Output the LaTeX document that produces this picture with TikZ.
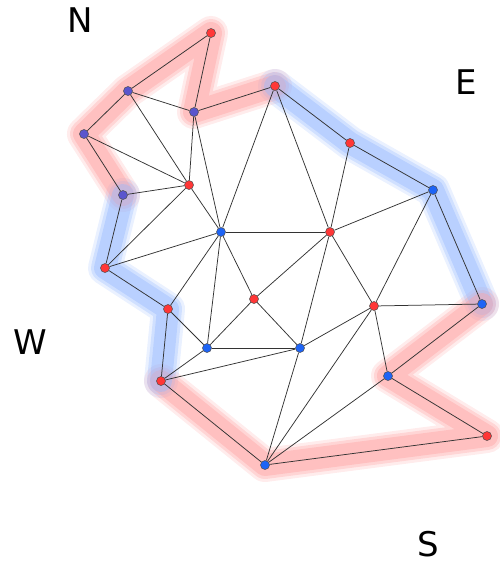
\documentclass[tikz,border=0pt]{standalone}
\usepackage{fontspec}
\newfontfamily\labelfont{DejaVu Sans}
\usetikzlibrary{backgrounds}

\definecolor{vred}{RGB}{255,55,55}
\definecolor{vblue}{RGB}{30,100,245}
\definecolor{vpurple}{RGB}{90,85,205}
\definecolor{haloR}{RGB}{255,160,160}
\definecolor{haloB}{RGB}{150,185,255}

\tikzset{
  vtx/.style={circle, inner sep=0pt, minimum size=9pt, draw=black!70, line width=0.5pt, fill=#1},
  edge/.style={draw=black!80, line width=0.75pt},
  halo/.style={line cap=round, line join=round},
  compass/.style={inner sep=0pt, font=\labelfont\fontsize{34}{40}\selectfont}
}

\begin{document}
\begin{tikzpicture}[x=1pt, y=-1pt]
    \useasboundingbox (0,0) rectangle (500,563);

    % Vertices
    \node[vtx=vred]    (v1)  at (211,33)  {};
    \node[vtx=vpurple] (v2)  at (128,91)  {};
    \node[vtx=vpurple] (v3)  at (194,112) {};
    \node[vtx=vred]    (v4)  at (275,86)  {};
    \node[vtx=vpurple] (v5)  at (84,134)  {};
    \node[vtx=vred]    (v6)  at (189,185) {};
    \node[vtx=vpurple] (v7)  at (123,195) {};
    \node[vtx=vred]    (v8)  at (350,143) {};
    \node[vtx=vblue]   (v9)  at (433,190) {};
    \node[vtx=vblue]   (v10) at (221,232) {};
    \node[vtx=vred]    (v11) at (330,232) {};
    \node[vtx=vred]    (v12) at (105,268) {};
    \node[vtx=vred]    (v13) at (168,309) {};
    \node[vtx=vred]    (v14) at (254,299) {};
    \node[vtx=vred]    (v15) at (374,306) {};
    \node[vtx=vblue]   (v16) at (482,304) {};
    \node[vtx=vblue]   (v17) at (207,348) {};
    \node[vtx=vblue]   (v18) at (300,348) {};
    \node[vtx=vblue]   (v19) at (388,376) {};
    \node[vtx=vred]    (v20) at (161,381) {};
    \node[vtx=vred]    (v21) at (487,436) {};
    \node[vtx=vblue]   (v22) at (265,465) {};

    % Compass labels
    \node[compass] (north) at (80,20)  {N};
    \node[compass] (east)  at (466,82) {E};
    \node[compass] (west)  at (30,342) {W};
    \node[compass] (south) at (428,544) {S};

    \begin{pgfonlayer}{background}
    % Boundary halos
    \foreach \w/\o in {34/0.2, 28/0.3, 22/0.4} {
      \draw[halo, draw=haloR, line width=\w pt, opacity=\o]
        (v7.center) -- (v5.center) -- (v2.center) -- (v1.center) -- (v3.center) -- (v4.center);
      \draw[halo, draw=haloB, line width=\w pt, opacity=\o]
        (v4.center) -- (v8.center) -- (v9.center) -- (v16.center);
      \draw[halo, draw=haloR, line width=\w pt, opacity=\o]
        (v16.center) -- (v19.center) -- (v21.center) -- (v22.center) -- (v20.center);
      \draw[halo, draw=haloB, line width=\w pt, opacity=\o]
        (v20.center) -- (v13.center) -- (v12.center) -- (v7.center);
    }

    % Triangulation
    \foreach \a/\b in {v1/v2, v1/v3, v2/v3, v3/v4, v2/v5, v2/v6, v5/v6, v5/v7,
                       v7/v6, v3/v6, v3/v10, v6/v10, v4/v10, v4/v11, v4/v8, v8/v9,
                       v8/v11, v9/v11, v9/v16, v9/v15, v7/v12, v6/v12, v12/v10, v12/v13,
                       v13/v10, v13/v20, v13/v17, v10/v17, v10/v14, v10/v11, v14/v17, v14/v18,
                       v14/v11, v17/v18, v17/v20, v20/v18, v20/v22, v18/v22, v18/v11, v18/v15,
                       v11/v15, v15/v16, v15/v19, v15/v22, v16/v19, v19/v22, v19/v21, v21/v22}
      \draw[edge] (\a) -- (\b);
    \end{pgfonlayer}
\end{tikzpicture}
\end{document}
